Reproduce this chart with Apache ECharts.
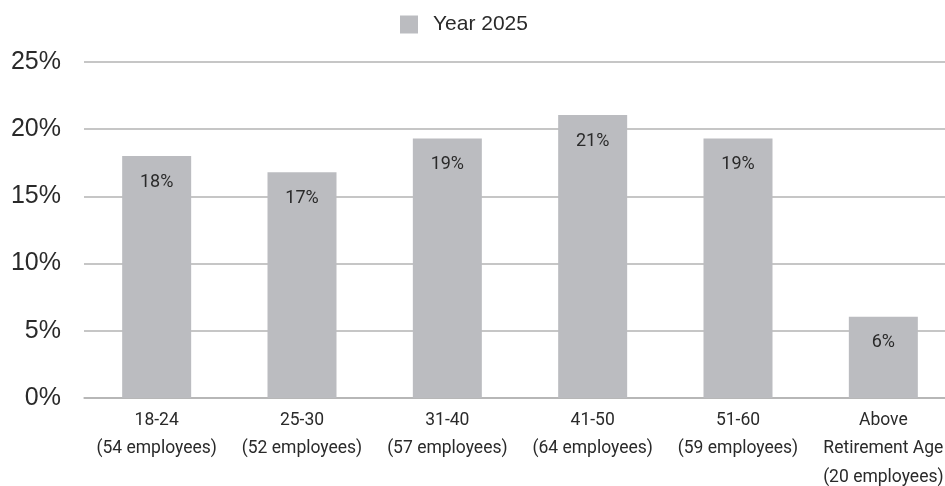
<!DOCTYPE html>
<html>
<head>
<meta charset="utf-8">
<script src="https://cdn.jsdelivr.net/npm/echarts@6/dist/echarts.min.js"></script>
<style>
html,body{margin:0;padding:0;background:#fff;}
#chart{width:945px;height:486px;}
</style>
</head>
<body>
<div id="chart"></div>
<script>
const categories = ['18-24\n(54 employees)', '25-30\n(52 employees)', '31-40\n(57 employees)', '41-50\n(64 employees)', '51-60\n(59 employees)', 'Above\nRetirement Age\n(20 employees)'];
const seriesName = 'Year 2025';
const values = [18.0, 16.8, 19.3, 21.05, 19.3, 6.05];
const yTicks = [0, 5, 10, 15, 20, 25];

const chart = echarts.init(document.getElementById('chart'), null, {renderer: 'canvas'});
chart.setOption({
  animation: false,
  legend: {
    data: [seriesName],
    top: 9,
    left: 395,
    itemWidth: 18,
    itemHeight: 18,
    icon: 'rect',
    textStyle: {fontFamily: '"Liberation Sans", Arial, sans-serif', fontSize: 21, color: '#2a2a2a', padding: [0, 0, 0, 10]}
  },
  grid: {left: 84, width: 872, top: 62, bottom: 88, outerBoundsMode: 'none', containLabel: false},
  xAxis: {
    type: 'category',
    data: categories,
    axisTick: {show: false},
    axisLine: {lineStyle: {color: '#b3b3b3', width: 1.5}},
    axisLabel: {fontFamily: 'Roboto, sans-serif', fontSize: 17.5, color: '#2a2a2a', lineHeight: 28.5, margin: 8, interval: 0}
  },
  yAxis: {
    type: 'value',
    min: yTicks[0],
    max: yTicks[yTicks.length - 1],
    interval: 5,
    axisLine: {show: false},
    axisTick: {show: false},
    splitLine: {lineStyle: {color: '#b3b3b3', width: 1.5}},
    axisLabel: {fontFamily: '"Liberation Sans", Arial, sans-serif', fontSize: 25, color: '#2a2a2a', margin: 23, formatter: v => v + '%'}
  },
  series: [{
    name: seriesName,
    type: 'bar',
    data: values,
    barWidth: 69,
    itemStyle: {color: '#bbbcc0'},
    label: {
      show: true,
      position: 'insideTop',
      distance: 17,
      fontFamily: 'Roboto, sans-serif',
      fontSize: 18,
      color: '#2a2a2a',
      formatter: p => Math.round(p.value) + '%'
    }
  }]
});
</script>
</body>
</html>
